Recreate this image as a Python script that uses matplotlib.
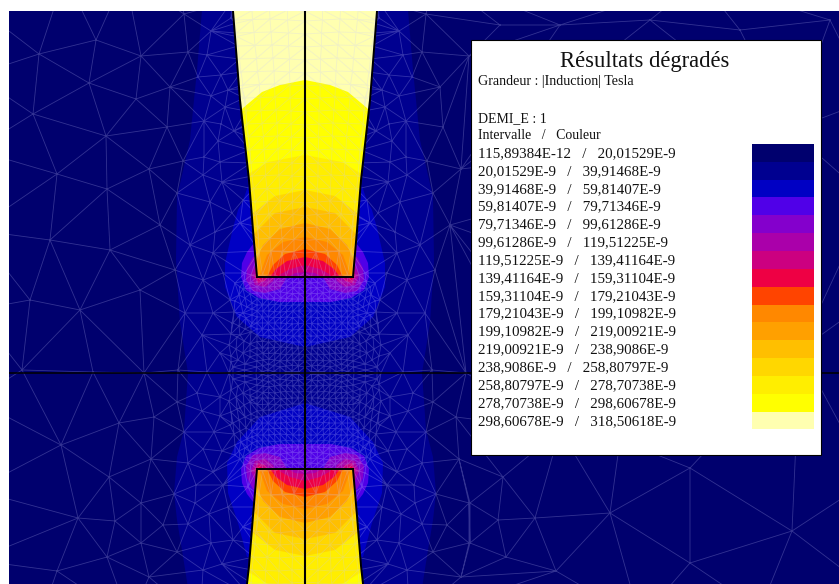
import numpy as np
import matplotlib
matplotlib.use('Agg')
import matplotlib.pyplot as plt
from matplotlib.tri import Triangulation, UniformTriRefiner

# where the symmetry axes sit in the picture, pixels
AXIS_X = 305
AXIS_Y = 373

colours = ['#00006e', '#000090', '#0000c4', '#5000e8', '#8400cc', '#aa00aa',
           '#cc0080', '#ee0044', '#ff4400', '#ff8800', '#ffa000', '#ffbf00',
           '#ffd700', '#ffee00', '#ffff00', '#ffffb0']
bounds = ['115,89384E-12', '20,01529E-9', '39,91468E-9', '59,81407E-9',
          '79,71346E-9', '99,61286E-9', '119,51225E-9', '139,41164E-9',
          '159,31104E-9', '179,21043E-9', '199,10982E-9', '219,00921E-9',
          '238,9086E-9', '258,80797E-9', '278,70738E-9', '298,60678E-9',
          '318,50618E-9']

# pole side, (half width, distance from the horizontal axis)
pole_side = [(48, 96), (52, 143), (56, 193), (65, 273), (72, 362), (73, 375)]

# level outlines outside the poles
band_1 = [(102, -375), (108, -303), (115, -233), (128, -176), (129, -113),
          (125, -50), (117, 0), (121, 57), (128, 84), (131, 120), (128, 147),
          (123, 177), (117, 215)]
blue_top = [(0, 26), (45, 36), (68, 56), (80, 86), (80, 110), (72, 145),
            (67, 163), (62, 172), (56, 190), (0, 190)]
blue_bottom = [(0, 30), (45, 44), (68, 69), (78, 90), (77, 120), (67, 150),
               (58, 184), (0, 184)]
violet = [(0, 71), (26, 71), (46, 75), (59, 83), (64, 96), (63, 110),
          (58, 121), (51, 130), (0, 130)]
lobes = [
    (4, [(18, 96), (25, 84), (40, 80), (52, 82), (59, 93), (58, 105), (52, 116),
         (46, 118), (18, 118)]),
    (5, [(30, 96), (32, 92), (40, 86), (50, 88), (54, 98), (49, 110), (30, 110)]),
    (6, [(37, 96), (40, 92), (47, 90), (51, 97), (48, 104), (37, 104)]),
    (7, [(42, 96), (46, 93), (49, 96), (48, 100), (42, 100)]),
    (8, [(44, 96), (46, 95), (48, 98), (44, 98)]),
]

# level outlines inside the poles
domes = [
    (14, [(0, 293), (25, 288), (43, 281), (62, 265), (80, 245)]),
    (13, [(0, 218), (37, 211), (55, 200), (70, 190)]),
    (12, [(0, 183), (30, 177), (52, 160), (65, 145)]),
    (11, [(0, 166), (30, 160), (50, 140), (60, 122)]),
    (10, [(0, 150), (25, 144), (42, 128), (52, 105)]),
    (9, [(0, 136), (22, 131), (38, 118), (46, 96)]),
    (8, [(0, 124), (20, 119), (32, 108), (38, 96)]),
    (7, [(0, 116), (18, 112), (29, 104), (35, 96)]),
    (6, [(0, 108), (15, 104), (24, 99), (27, 96)]),
    (5, [(0, 101), (10, 100), (17, 96)]),
]

# mesh nodes, pixels
mesh_left = [
    (39, 54), (96, 40), (141, 56), (89, 83), (136, 99), (170, 87), (188, 52),
    (184, 14), (211, 31), (198, 77), (33, 114), (106, 136), (167, 127),
    (204, 121), (57, 174), (107, 189), (149, 169), (183, 161), (203, 175),
    (177, 193), (221, 75), (211, 96), (225, 107), (221, 124), (234, 131),
    (218, 141), (204, 157), (220, 162), (222, 182), (207, 55), (228, 90),
    (231, 18), (50, 240), (110, 250), (160, 225), (30, 300), (80, 310),
    (140, 290), (175, 270), (22, 370), (93, 372), (144, 373), (178, 370),
    (207, 372), (210, 202), (185, 313), (213, 313), (202, 335), (240, 335),
    (220, 353), (213, 253), (190, 245), (215, 232), (240, 223), (243, 200),
    (232, 213), (223, 273), (203, 280), (235, 283), (243, 313), (230, 300),
    (252, 323), (61, 445), (119, 423), (154, 417), (151, 459), (109, 477),
    (78, 518), (115, 521), (141, 503), (141, 543), (107, 557), (57, 571),
    (149, 577), (174, 494), (184, 432), (214, 432), (202, 411), (220, 397),
    (220, 416), (197, 393), (177, 402), (188, 463), (203, 449), (222, 451),
    (213, 472), (196, 485), (195, 503), (209, 514), (163, 525), (188, 524),
    (211, 543), (177, 552), (222, 564), (203, 570), (233, 540), (240, 408),
    (243, 527), (228, 507), (223, 485), (248, 487), (235, 455), (247, 447),
    (230, 425), (252, 400), (-25, 5), (-25, 75), (-25, 150), (-25, 230),
    (-25, 310), (-25, 400), (-25, 490), (-25, 560), (65, -25), (125, -25),
    (175, -25), (40, 620), (130, 620), (200, 620),
]
mesh_right = [
    (503, 477), (498, 520), (535, 518), (610, 513), (506, 557), (556, 571),
    (690, 468), (690, 563), (792, 531), (470, 503), (470, 543), (760, 610),
    (870, 480), (870, 590), (640, 620), (620, 440), (560, 430), (500, 25),
    (560, 25), (650, 20), (740, 30), (830, 20), (700, -20), (870, 200),
    (790, 130), (870, 100), (870, 300), (800, 350),
]
# one quadrant, (offset from vertical axis, offset from horizontal axis)
mesh_core = [
    (0, 0), (13, 2), (25, 0), (37, 3), (49, 0), (0, 12), (12, 13), (25, 12),
    (36, 14), (48, 12), (0, 25), (13, 25), (24, 26), (37, 25), (48, 25),
    (0, 37), (12, 37), (25, 38), (36, 37), (48, 38), (0, 50), (13, 49),
    (24, 50), (37, 50), (48, 50), (0, 62), (12, 62), (25, 61), (36, 62),
    (48, 62), (0, 74), (13, 74), (24, 75), (37, 74), (48, 74), (0, 86),
    (12, 85), (25, 87), (36, 86), (48, 86), (0, 96), (13, 96), (25, 96),
    (37, 96), (48, 96), (60, 100), (62, 84), (58, 66), (70, 72), (60, 44),
    (72, 50), (62, 20), (76, 28), (72, 6),
]
mesh_pole = [
    (0, 120), (22, 122), (46, 122), (0, 145), (24, 147), (47, 146), (0, 170),
    (25, 172), (50, 171), (0, 196), (26, 198), (53, 197), (0, 222), (27, 224),
    (55, 223), (0, 248), (28, 250), (58, 249), (0, 274), (30, 276), (60, 275),
    (0, 300), (31, 302), (64, 301), (0, 326), (33, 328), (67, 327), (0, 352),
    (35, 354), (70, 353), (0, 372), (36, 372), (73, 372),
]


def mirrored(points, sx=1, sy=1):
    # close an outline over the vertical axis
    pts = np.array(points, dtype=float)
    left = pts[::-1] * [-1, 1]
    return np.vstack([pts, left]) * [sx, sy]


def four_corners(points):
    pts = np.array(points, dtype=float)
    return [pts * [sx, sy] for sx in (-1, 1) for sy in (-1, 1)]


def mesh_nodes():
    left = np.array(mesh_left, dtype=float) - [AXIS_X, AXIS_Y]
    # the right half follows the left one, further out it is read on its own
    near = left[left[:, 0] > -165] * [-1, 1]
    right = np.array(mesh_right, dtype=float) - [AXIS_X, AXIS_Y]

    core = np.vstack(four_corners(mesh_core))
    core = np.unique(core, axis=0)
    core_tri = Triangulation(core[:, 0], core[:, 1])
    fine = UniformTriRefiner(core_tri).refine_triangulation(subdiv=1)
    core_nodes = np.column_stack([fine.x, fine.y])

    pole = np.vstack(four_corners(mesh_pole))
    pole = np.unique(pole, axis=0)
    pole = pole[pole[:, 1] < 240]
    pole_parts = []
    for part in (pole[pole[:, 1] < 0], pole[pole[:, 1] > 0]):
        part_tri = Triangulation(part[:, 0], part[:, 1])
        part_fine = UniformTriRefiner(part_tri).refine_triangulation(subdiv=1)
        pole_parts.append(np.column_stack([part_fine.x, part_fine.y]))

    nodes = np.vstack([left, near, right, core_nodes] + pole_parts)
    return np.unique(np.round(nodes, 1), axis=0)


fig = plt.figure(figsize=(8.39, 5.84), dpi=100, facecolor='white')
ax = fig.add_axes([9 / 839, 0, 830 / 839, 573 / 584])
ax.set_xlim(9 - AXIS_X, 839 - AXIS_X)
ax.set_ylim(584 - AXIS_Y, 11 - AXIS_Y)
ax.set_xticks([])
ax.set_yticks([])
for spine in ax.spines.values():
    spine.set_visible(False)
ax.set_facecolor(colours[0])

# field outside the poles
ax.fill(*mirrored(band_1).T, color=colours[1], lw=0)
ax.fill(*mirrored(blue_top, sy=-1).T, color=colours[2], lw=0)
ax.fill(*mirrored(blue_bottom).T, color=colours[2], lw=0)
for sy in (-1, 1):
    ax.fill(*mirrored(violet, sy=sy).T, color=colours[3], lw=0)
for level, outline in lobes:
    for pts in four_corners(outline):
        ax.fill(*pts.T, color=colours[level], lw=0)

# field inside the poles
for sy in (-1, 1):
    pole = mirrored(pole_side, sy=sy)
    pole_patch = ax.fill(*pole.T, color=colours[15], lw=0)[0]
    for level, outline in domes:
        closed = outline + [(outline[-1][0], 96)]
        dome = ax.fill(*mirrored(closed, sy=sy).T, color=colours[level], lw=0)[0]
        dome.set_clip_path(pole_patch)

nodes = mesh_nodes()
ax.triplot(Triangulation(nodes[:, 0], nodes[:, 1]), color='#c8c8ff', lw=0.6,
           alpha=0.25)

for sy in (-1, 1):
    ax.plot(*mirrored(pole_side, sy=sy).T, color='black', lw=1.4)
    ax.plot([-48, 48], [96 * sy, 96 * sy], color='black', lw=1.4)
ax.axvline(0, color='black', lw=1.5)
ax.axhline(0, color='black', lw=1.1)

# results box, in pixels
box = fig.add_axes([0, 0, 1, 1])
box.set_xlim(0, 839)
box.set_ylim(584, 0)
box.axis('off')
box.fill([471, 821, 821, 471], [40, 40, 455, 455], facecolor='white',
         edgecolor='black', lw=0.8)

serif = 'Liberation Serif'
box.text(645, 61, 'Résultats dégradés', family=serif, size=16.3, ha='center',
         va='center', color='#111111')
box.text(478, 81.5, 'Grandeur : |Induction| Tesla', family=serif, size=10.1,
         va='center', color='#111111')
box.text(478, 118.5, 'DEMI_E : 1', family=serif, size=10, va='center',
         color='#111111')
box.text(478, 135.5, 'Intervalle   /   Couleur', family=serif, size=10,
         va='center', color='#111111')

rows = 153 + 17.85 * np.arange(len(colours))
for row, lo, hi in zip(rows, bounds[:-1], bounds[1:]):
    box.text(478, row + 0.5, '%s   /   %s' % (lo, hi), family=serif, size=10.8,
             va='center', color='#111111')
box.barh(rows - 0.2, 62, left=752, height=17.85, color=colours, lw=0)

fig.savefig('out.png', dpi=100)
